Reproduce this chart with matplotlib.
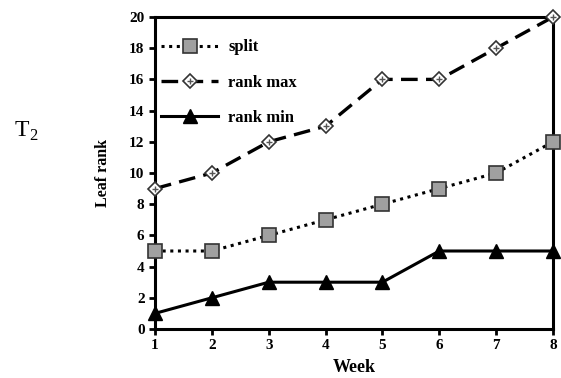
import matplotlib
matplotlib.use("Agg")
import matplotlib.pyplot as plt
from matplotlib.lines import Line2D

weeks = [1, 2, 3, 4, 5, 6, 7, 8]
split = [5, 5, 6, 7, 8, 9, 10, 12]
rank_max = [9, 10, 12, 13, 16, 16, 18, 20]
rank_min = [1, 2, 3, 3, 3, 5, 5, 5]
yticks = list(range(0, 21, 2))

plt.rcParams['font.family'] = ['Liberation Serif', 'DejaVu Serif']
plt.rcParams['font.weight'] = 'bold'

fig = plt.figure(figsize=(5.61, 3.78), dpi=100)
ax = fig.add_axes([155/561, 1-329/378, (553-155)/561, (329-17)/378])

ax.plot(weeks, split, linestyle=(0, (1, 1.5)), color='black', lw=2.2,
        marker='s', ms=10.5, mfc='#a0a0a0', mec='#333333', mew=1.2, clip_on=False, zorder=3)
ax.plot(weeks, rank_max, linestyle=(0, (5, 2.5)), color='black', lw=2.4,
        marker='D', ms=7.5, mfc='white', mec='#333333', mew=1.2, clip_on=False, zorder=3)
ax.plot(weeks, rank_max, linestyle='none', marker='+', ms=5, mec='#555555', mew=1.0,
        clip_on=False, zorder=4)
ax.plot(weeks, rank_min, linestyle='-', color='black', lw=2.2,
        marker='^', ms=9.5, mfc='black', mec='black', clip_on=False, zorder=3)

ax.set_xlim(1, 8)
ax.set_ylim(0, 20)
ax.set_xticks(weeks)
ax.set_yticks(yticks)
for s in ax.spines.values():
    s.set_linewidth(2.2)
ax.tick_params(direction='out', length=4, width=2, labelsize=11)
for lab in ax.get_xticklabels() + ax.get_yticklabels():
    lab.set_fontweight('bold')
ax.set_xlabel('Week', fontsize=13, fontweight='bold', labelpad=5)
ax.set_ylabel('Leaf rank', fontsize=11.5, fontweight='bold', labelpad=13)

h1 = Line2D([], [], linestyle=(0, (1, 1.5)), color='black', lw=2.2,
            marker='s', ms=10.5, mfc='#a0a0a0', mec='#333333', mew=1.2)
h2 = (Line2D([], [], linestyle=(0, (5, 2.5)), color='black', lw=2.4,
             marker='D', ms=7.5, mfc='white', mec='#333333', mew=1.2),
      Line2D([], [], linestyle='none', marker='+', ms=5, mec='#555555', mew=1.0))
h3 = Line2D([], [], linestyle='-', color='black', lw=2.2,
            marker='^', ms=9.5, mfc='black', mec='black')
leg = ax.legend([h1, h2, h3], ['split', 'rank max', 'rank min'], loc='upper left',
                frameon=False, handlelength=3.4, fontsize=12, labelspacing=1.15,
                borderaxespad=0.1, handletextpad=0.6, bbox_to_anchor=(-0.005, 0.955))
for t in leg.get_texts():
    t.set_fontweight('bold')

fig.text(15/561, 1-136/378, 'T', fontsize=17, fontweight='normal', ha='left', va='baseline')
fig.text(29/561, 1-140/378, '2', fontsize=12, fontweight='normal', ha='left', va='baseline')

fig.savefig('out.png', dpi=100)
